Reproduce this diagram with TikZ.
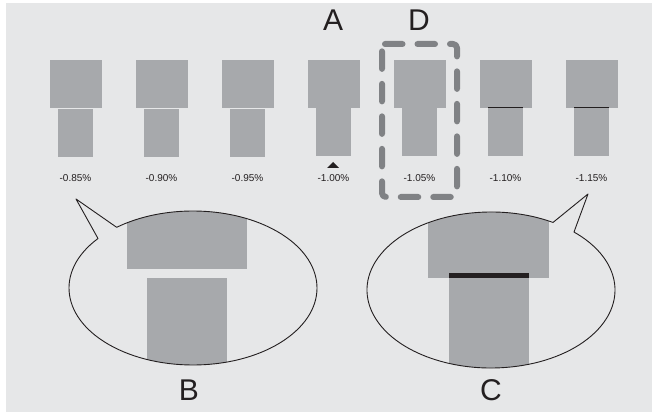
\documentclass[tikz,border=0pt]{standalone}
\usepackage{fontspec}
\setmainfont{Liberation Sans}
\definecolor{paper}{HTML}{E6E7E8}
\definecolor{blockgray}{HTML}{A7A9AC}
\definecolor{dashgray}{HTML}{808285}
\definecolor{ink}{HTML}{231F20}
\begin{document}
\begin{tikzpicture}[x=1pt,y=1pt,line join=round,
  block/.style={fill=blockgray},
  pct/.style={font=\fontsize{10}{12}\selectfont,text=ink,inner sep=0pt},
  letter/.style={font=\fontsize{30}{36}\selectfont,text=ink,inner sep=0pt},
  bubble/.style={draw=ink,line width=0.9pt,fill=paper}]
  \useasboundingbox (0,0) rectangle (652,412);
  \fill[paper] (6,0) rectangle (652,409);
  % row of sections
  \fill[block] (50,304) rectangle (102,352);
  \fill[block] (58,255) rectangle (93,303);
  \fill[block] (136,304) rectangle (188,352);
  \fill[block] (144,255) rectangle (179,303);
  \fill[block] (222,304) rectangle (274,352);
  \fill[block] (230,255) rectangle (265,303);
  \fill[block] (308,304) rectangle (360,352);
  \fill[block] (316,256) rectangle (351,304);
  \fill[block] (394,304) rectangle (446,352);
  \fill[block] (402,256) rectangle (437,304);
  \fill[block] (480,304) rectangle (532,352);
  \fill[block] (488,256) rectangle (523,304);
  \draw[ink,line width=0.8pt] (488,304.5) -- (523,304.5);
  \fill[block] (566,304) rectangle (618,352);
  \fill[block] (574,256) rectangle (609,304);
  \draw[ink,line width=0.8pt] (574,304.5) -- (609,304.5);
  \node[pct] (p085) at (75.5,234) {-0.85\%};
  \node[pct] (p090) at (161.5,234) {-0.90\%};
  \node[pct] (p095) at (247.5,234) {-0.95\%};
  \node[pct] (p100) at (333.5,234) {-1.00\%};
  \node[pct] (p105) at (419.5,234) {-1.05\%};
  \node[pct] (p110) at (505.5,234) {-1.10\%};
  \node[pct] (p115) at (591.5,234) {-1.15\%};
  \fill[ink] (327,244) -- (339,244) -- (333,250) -- cycle;
  % highlighted column
  \draw[dashgray,line width=6pt,line cap=round,rounded corners=4pt,
    dash pattern=on 17.5pt off 15pt,dash phase=29.5pt]
    (382,368) -- (457,368) -- (457,215) -- (382,215) -- (382,368);
  % close-ups
  \draw[bubble,path picture={
      \fill[block] (127,143) rectangle (247,215);
      \fill[block] (147,30) rectangle (227,134);}]
    (193,124) ++(140:124 and 77) arc[start angle=140,end angle=488,x radius=124,y radius=77]
    -- (76,213) -- cycle;
  \draw[bubble,path picture={
      \fill[block] (428,134) rectangle (549,215);
      \fill[block] (449,30) rectangle (529,134);
      \fill[ink] (449,134) rectangle (529,139);}]
    (491,122) ++(60:124 and 78) arc[start angle=60,end angle=408,x radius=124,y radius=78]
    -- (588,218) -- cycle;
  \node[letter] (lblA) at (333,392) {A};
  \node[letter] (lblD) at (419,392) {D};
  \node[letter] (lblB) at (189,22) {B};
  \node[letter] (lblC) at (491,22) {C};
\end{tikzpicture}
\end{document}
